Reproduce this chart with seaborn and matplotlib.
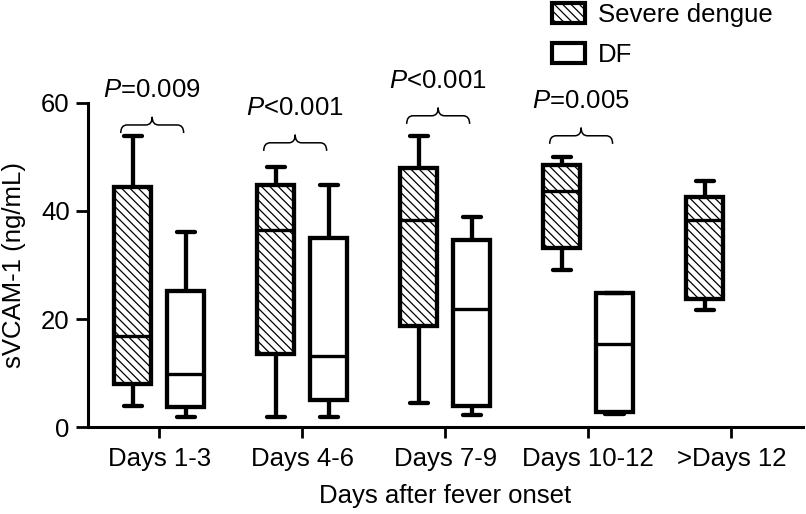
import numpy as np
import pandas as pd
import seaborn as sns
import matplotlib.pyplot as plt
from matplotlib.patches import Patch, PathPatch
from matplotlib.path import Path

# ---------------------------------------------------------------
# data: five-number summaries (min, Q1, median, Q3, max)
# ---------------------------------------------------------------
periods = ['Days 1-3', 'Days 4-6', 'Days 7-9', 'Days 10-12', '>Days 12']
groups = ['Severe dengue', 'DF']

severe_vals = [
    [3.9, 8.0, 16.9, 44.4, 53.9],
    [1.9, 13.5, 36.5, 44.8, 48.1],
    [4.5, 18.7, 38.3, 47.9, 53.9],
    [29.1, 33.1, 43.7, 48.5, 49.9],
    [21.7, 23.7, 38.3, 42.6, 45.5],
]
df_vals = [
    [1.8, 3.8, 9.9, 25.2, 36.1],
    [1.9, 5.1, 13.1, 34.9, 44.8],
    [2.3, 3.9, 21.8, 34.6, 38.9],
    [2.5, 2.8, 15.4, 24.8, 24.8],
]

p_labels = ['$P$=0.009', '$P$<0.001', '$P$<0.001', '$P$=0.005']
brace_y = [55.9, 52.6, 57.6, 53.9]

rows = []
for per, vals in zip(periods, severe_vals):
    rows += [{'period': per, 'group': 'Severe dengue', 'value': v} for v in vals]
for per, vals in zip(periods, df_vals):
    rows += [{'period': per, 'group': 'DF', 'value': v} for v in vals]
data = pd.DataFrame(rows)

# ---------------------------------------------------------------
# style
# ---------------------------------------------------------------
sns.set_theme(style='ticks', rc={'text.color': 'black', 'axes.labelcolor': 'black',
                                 'xtick.color': 'black', 'ytick.color': 'black',
                                 'axes.edgecolor': 'black'})
plt.rcParams['font.family'] = ['Liberation Sans', 'DejaVu Sans']
plt.rcParams['mathtext.fontset'] = 'custom'
plt.rcParams['mathtext.rm'] = 'Liberation Sans'
plt.rcParams['mathtext.it'] = 'Liberation Sans:italic'
plt.rcParams['hatch.linewidth'] = 0.9
plt.rcParams['hatch.color'] = 'black'
FS = 18.5
HATCH = '\\\\\\\\'

fig = plt.figure(figsize=(8.06, 5.14), dpi=100)
ax = fig.add_axes([0.109, 0.169, 0.887, 0.631])

sns.boxplot(
    data=data, x='period', y='value', hue='group',
    order=periods, hue_order=groups,
    palette={'Severe dengue': '#808080', 'DF': 'white'},
    whis=(0, 100), width=0.74, gap=0.3, fliersize=0,
    linewidth=3.1, linecolor='black', saturation=1,
    medianprops={'linewidth': 2.4, 'color': 'black'},
    legend=False, ax=ax,
)

for p in ax.patches:
    fc = p.get_facecolor()
    if fc[0] < 0.9:
        p.set_facecolor('white')
        p.set_hatch(HATCH)
    p.set_edgecolor('black')

# p-value braces
def draw_brace(ax, x0, x1, y, h=1.5, r=0.045):
    xm = (x0 + x1) / 2
    verts = [(x0, y - h), (x0, y), (x0 + r, y),
             (xm - r, y),
             (xm, y), (xm, y + h),
             (xm, y), (xm + r, y),
             (x1 - r, y),
             (x1, y), (x1, y - h)]
    codes = [Path.MOVETO, Path.CURVE3, Path.CURVE3,
             Path.LINETO,
             Path.CURVE3, Path.CURVE3,
             Path.CURVE3, Path.CURVE3,
             Path.LINETO,
             Path.CURVE3, Path.CURVE3]
    ax.add_patch(PathPatch(Path(verts, codes), facecolor='none',
                           edgecolor='black', lw=1.1, clip_on=False))

for i, (lab, by) in enumerate(zip(p_labels, brace_y)):
    draw_brace(ax, i - 0.27, i + 0.17, by)
    ax.text(i - 0.05, by + 5.2, lab, ha='center', va='baseline',
            fontsize=FS, clip_on=False)

ax.set_xlim(-0.5, 4.5)
ax.set_ylim(0, 60)
ax.set_yticks([0, 20, 40, 60])
ax.set_xlabel('Days after fever onset', fontsize=FS, labelpad=10)
ax.set_ylabel('sVCAM-1 (ng/mL)', fontsize=FS, labelpad=11)
ax.tick_params(axis='both', labelsize=FS, width=2, length=8, color='black')
ax.tick_params(axis='y', length=9, pad=4)
ax.tick_params(axis='x', pad=6)
for s in ['left', 'bottom']:
    ax.spines[s].set_linewidth(2.2)
    ax.spines[s].set_color('black')
sns.despine(ax=ax)

handles = [
    Patch(facecolor='white', edgecolor='black', hatch=HATCH, linewidth=3),
    Patch(facecolor='white', edgecolor='black', linewidth=3),
]
fig.legend(handles, groups, loc='upper left', bbox_to_anchor=(552 / 806, 1 - 3 / 514),
           frameon=False, fontsize=FS, handlelength=1.3, handleheight=0.8,
           handletextpad=0.5, labelspacing=0.62, borderpad=0, borderaxespad=0)

fig.savefig('out.png', dpi=100)
